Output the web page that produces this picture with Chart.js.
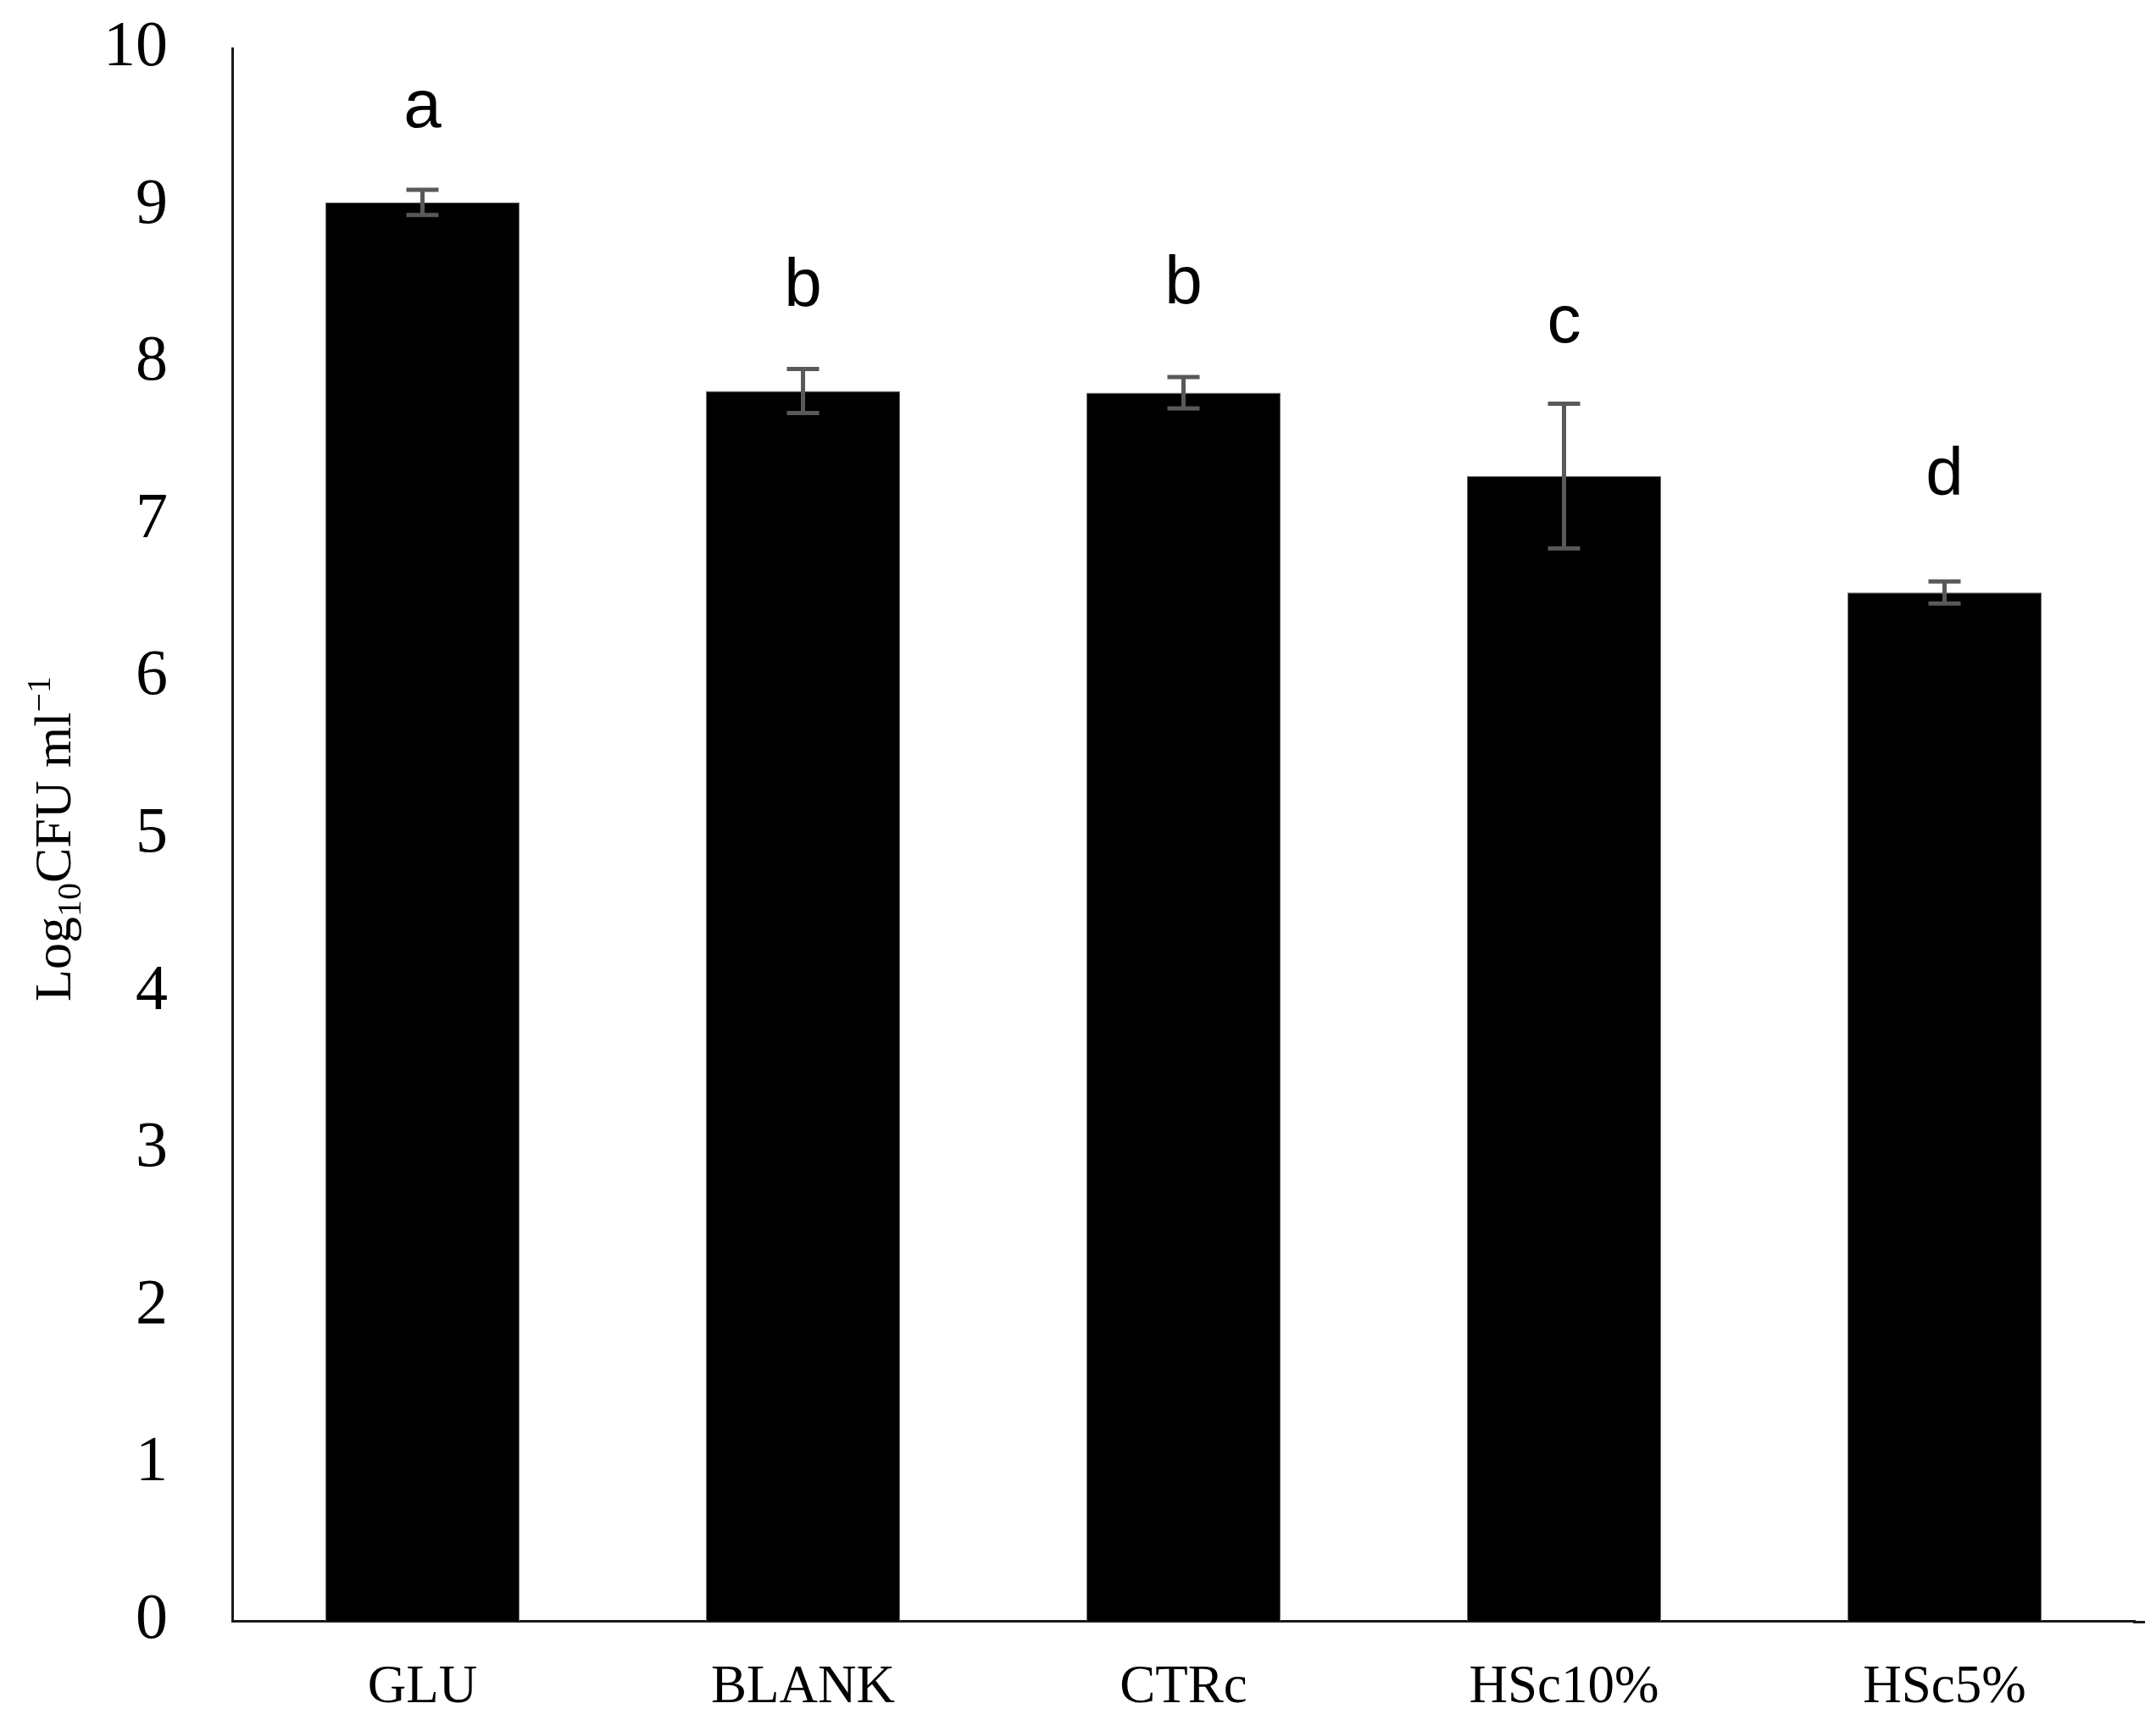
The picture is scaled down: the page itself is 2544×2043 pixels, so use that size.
<!DOCTYPE html>
<html>
<head>
<meta charset="utf-8">
<script src="https://cdn.jsdelivr.net/npm/chart.js@4/dist/chart.umd.min.js"></script>
<style>
html,body{margin:0;padding:0;background:#fff;}
canvas{display:block;}
</style>
</head>
<body>
<canvas id="c" width="2544" height="2043"></canvas>
<script>
// ---- data ----
const categories = ['GLU', 'BLANK', 'CTRc', 'HSc10%', 'HSc5%'];
const means = [9.02, 7.82, 7.81, 7.28, 6.54];
const errors = [0.08, 0.14, 0.10, 0.46, 0.07];
const letters = ['a', 'b', 'b', 'c', 'd'];
const letterLevels = [9.50, 8.36, 8.38, 8.13, 7.16]; // baseline of each letter, in axis units
const yTicks = [0, 1, 2, 3, 4, 5, 6, 7, 8, 9, 10];

const errorBarPlugin = {
  id: 'errorBars',
  afterDatasetsDraw(chart) {
    const ctx = chart.ctx;
    const y = chart.scales.y;
    const meta = chart.getDatasetMeta(0);
    ctx.save();
    ctx.strokeStyle = '#595959';
    ctx.lineWidth = 5;
    meta.data.forEach((bar, i) => {
      const x = bar.x;
      const top = y.getPixelForValue(means[i] + errors[i]);
      const bot = y.getPixelForValue(means[i] - errors[i]);
      const cap = 19;
      ctx.beginPath();
      ctx.moveTo(x, top); ctx.lineTo(x, bot);
      ctx.moveTo(x - cap, top); ctx.lineTo(x + cap, top);
      ctx.moveTo(x - cap, bot); ctx.lineTo(x + cap, bot);
      ctx.stroke();
    });
    // significance letters
    ctx.fillStyle = '#000';
    ctx.font = '80px "Liberation Sans", Arial, sans-serif';
    ctx.textAlign = 'center';
    ctx.textBaseline = 'alphabetic';
    meta.data.forEach((bar, i) => {
      ctx.fillText(letters[i], bar.x, y.getPixelForValue(letterLevels[i]));
    });
    ctx.restore();
  },
  afterDraw(chart) {
    // small extension of the x axis line beyond the last category
    const ctx = chart.ctx;
    const a = chart.chartArea;
    ctx.save();
    ctx.strokeStyle = '#1a1a1a';
    ctx.lineWidth = 3;
    ctx.beginPath();
    ctx.moveTo(a.right - 2, a.bottom + 1.5);
    ctx.lineTo(a.right + 12, a.bottom + 1.5);
    ctx.stroke();
    ctx.restore();
  }
};

const yTitlePlugin = {
  id: 'yTitle',
  afterDraw(chart) {
    const ctx = chart.ctx;
    const big = 62, small = 40;
    const fam = '"Liberation Serif", "Times New Roman", serif';
    const parts = [
      {t: 'Log', s: big, dy: 0},
      {t: '10', s: small, dy: 12},
      {t: 'CFU ml', s: big, dy: 0},
      {t: '\u22121', s: small, dy: -24}
    ];
    ctx.save();
    let total = 0;
    parts.forEach(p => { ctx.font = p.s + 'px ' + fam; p.w = ctx.measureText(p.t).width; total += p.w; });
    ctx.translate(63, 990);
    ctx.rotate(-Math.PI / 2);
    ctx.fillStyle = '#000';
    ctx.textBaseline = 'alphabetic';
    ctx.textAlign = 'left';
    let x = -total / 2;
    const base = big * 0.33;
    parts.forEach(p => {
      ctx.font = p.s + 'px ' + fam;
      ctx.fillText(p.t, x, base + p.dy);
      x += p.w;
    });
    ctx.restore();
  }
};

new Chart(document.getElementById('c'), {
  type: 'bar',
  data: {
    labels: categories,
    datasets: [{
      data: means,
      backgroundColor: '#000',
      borderColor: '#6e6e6e',
      borderWidth: 1,
      categoryPercentage: 1.0,
      barPercentage: 0.51
    }]
  },
  options: {
    responsive: false,
    animation: false,
    layout: { padding: { left: 0, right: 25, top: 57, bottom: 0 } },
    plugins: { legend: { display: false }, tooltip: { enabled: false }, title: { display: false } },
    scales: {
      x: {
        grid: { display: false, drawTicks: false },
        border: { display: true, color: '#1a1a1a', width: 3 },
        ticks: {
          color: '#000',
          font: { family: '"Liberation Serif", "Times New Roman", serif', size: 63 },
          padding: 42,
          maxRotation: 0
        },
        afterFit(scale) { scale.height = 130; scale.paddingLeft = 0; scale.paddingRight = 0; }
      },
      y: {
        min: 0, max: 10,
        afterBuildTicks(scale) { scale.ticks = yTicks.map(v => ({ value: v })); },
        grid: { display: false, drawTicks: false },
        border: { display: true, color: '#1a1a1a', width: 3 },
        ticks: {
          color: '#000',
          font: { family: '"Liberation Serif", "Times New Roman", serif', size: 76 },
          padding: 76
        },
        afterFit(scale) { scale.width = 274; scale.paddingTop = 0; scale.paddingBottom = 0; }
      }
    }
  },
  plugins: [errorBarPlugin, yTitlePlugin]
});
</script>
</body>
</html>
